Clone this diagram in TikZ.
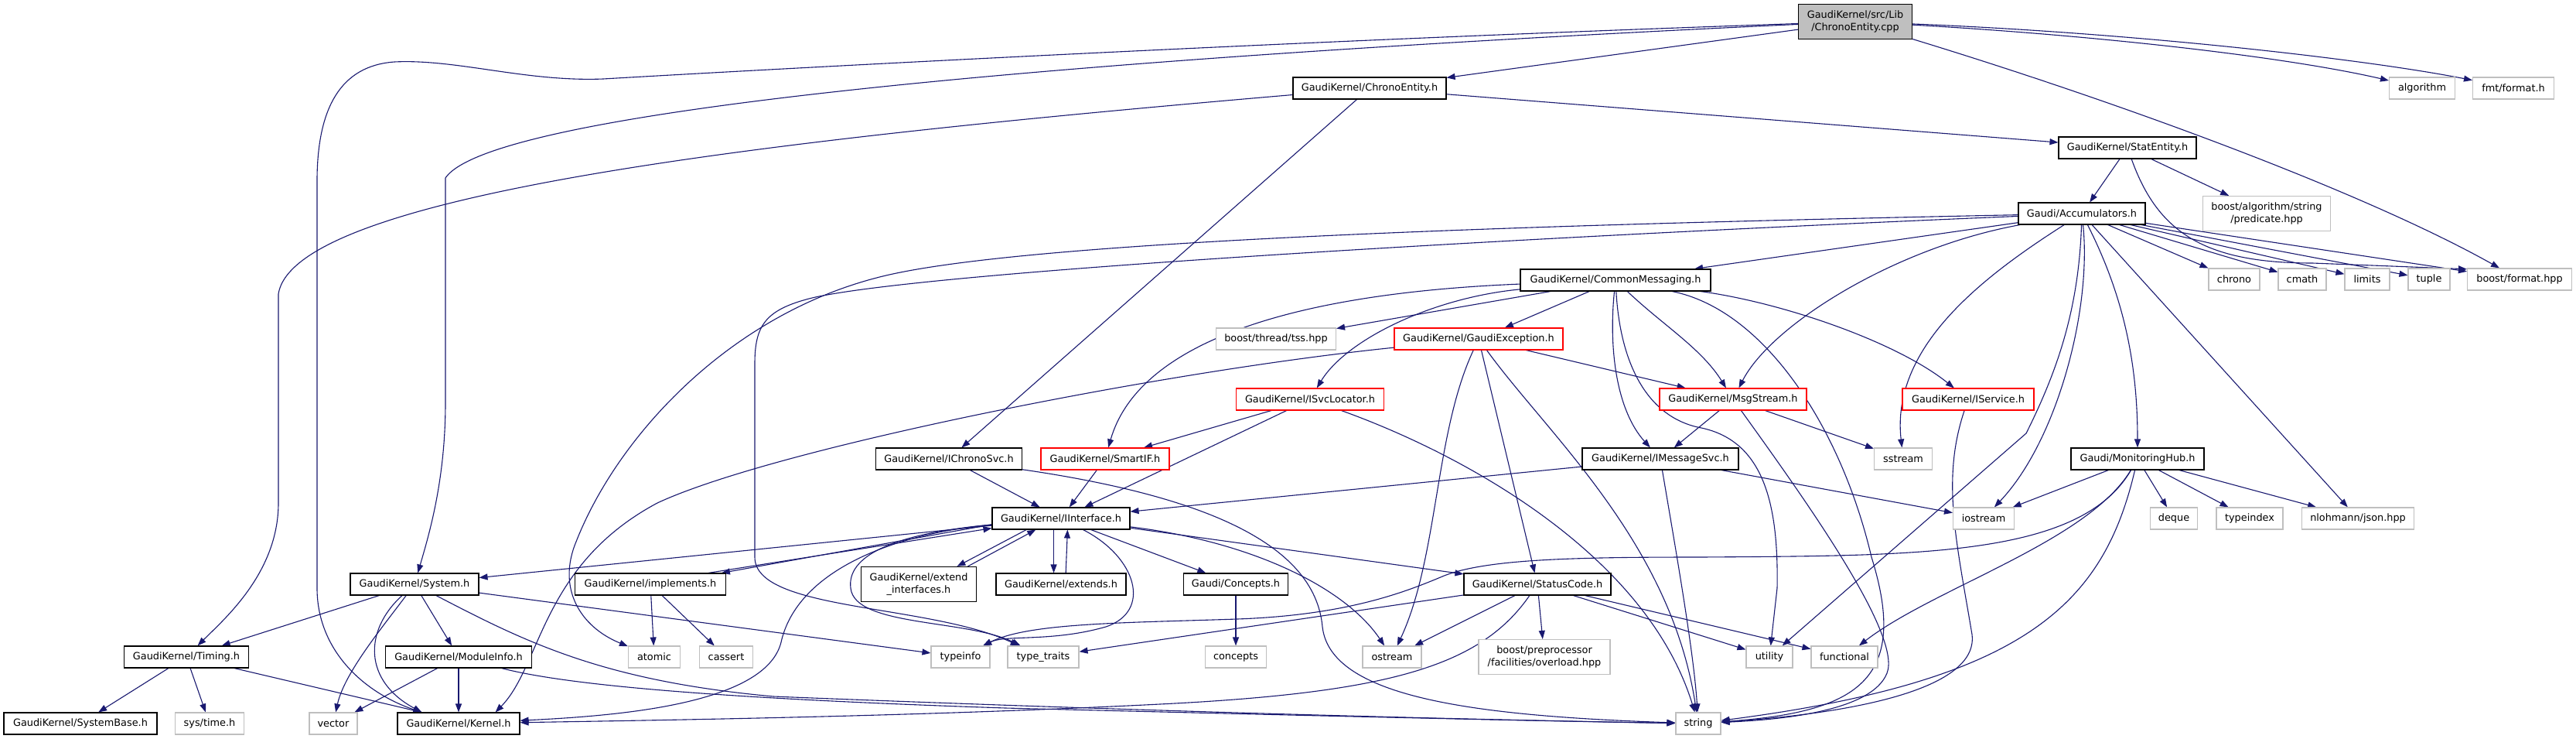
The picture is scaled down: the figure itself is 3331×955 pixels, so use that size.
\documentclass[tikz,border=0pt]{standalone}
\usepackage{fontspec}
\setmainfont{DejaVu Sans}
\usetikzlibrary{arrows.meta}
\definecolor{eblue}{RGB}{25,25,112}
\definecolor{gborder}{RGB}{191,191,191}
\definecolor{topfill}{RGB}{191,191,191}
\definecolor{rborder}{RGB}{255,0,0}
\newcommand{\gfont}{\fontsize{12.85}{16.5}\selectfont}
\pgfdeclarelayer{bg}
\pgfsetlayers{bg,main}
\begin{document}
\begin{tikzpicture}[x=1pt,y=-1pt,
  base/.style={rectangle, inner sep=0pt, font=\gfont, align=center, minimum height=28, line width=1.1pt},
  blk/.style={base, draw=black, fill=white},
  gry/.style={base, draw=gborder, fill=white},
  rdn/.style={base, draw=rborder, fill=white},
  topn/.style={base, draw=black, fill=topfill},
  edg/.style={draw=eblue, line width=1.1pt, -{Triangle[length=11pt,width=8pt]}}]
\useasboundingbox (0,0) rectangle (3331,955);
% nodes
\node[topn, minimum width=147, minimum height=45] (cpp) at (2399,28) {GaudiKernel/src/Lib\\/ChronoEntity.cpp};
\node[blk, minimum width=198] (ceh) at (1771,114) {GaudiKernel/ChronoEntity.h};
\node[gry, minimum width=85] (alg) at (3132,114) {algorithm};
\node[gry, minimum width=105] (fmt) at (3250,114) {fmt/format.h};
\node[blk, minimum width=178] (ste) at (2751,191) {GaudiKernel/StatEntity.h};
\node[blk, minimum width=164] (acc) at (2692,276) {Gaudi/Accumulators.h};
\node[gry, minimum width=165, minimum height=45] (prd) at (2931,276) {boost/algorithm/string\\/predicate.hpp};
\node[blk, minimum width=246] (cms) at (2089,362) {GaudiKernel/CommonMessaging.h};
\node[gry, minimum width=66] (chr) at (2889,361) {chrono};
\node[gry, minimum width=62] (cmt) at (2977,361) {cmath};
\node[gry, minimum width=58] (lim) at (3061,361) {limits};
\node[gry, minimum width=54] (tup) at (3141,361) {tuple};
\node[gry, minimum width=135] (bfm) at (3258,361) {boost/format.hpp};
\node[gry, minimum width=155] (tss) at (1650,438) {boost/thread/tss.hpp};
\node[rdn, minimum width=218] (gex) at (1912,438) {GaudiKernel/GaudiException.h};
\node[rdn, minimum width=191] (isl) at (1694,516) {GaudiKernel/ISvcLocator.h};
\node[rdn, minimum width=190] (msg) at (2241,516) {GaudiKernel/MsgStream.h};
\node[rdn, minimum width=170] (isv) at (2545,516) {GaudiKernel/IService.h};
\node[blk, minimum width=189] (ics) at (1227,593) {GaudiKernel/IChronoSvc.h};
\node[rdn, minimum width=166] (smt) at (1429,593) {GaudiKernel/SmartIF.h};
\node[blk, minimum width=202] (ims) at (2147,593) {GaudiKernel/IMessageSvc.h};
\node[gry, minimum width=75] (sst) at (2461,593) {sstream};
\node[blk, minimum width=172] (mon) at (2764,593) {Gaudi/MonitoringHub.h};
\node[blk, minimum width=178] (iif) at (1372,670) {GaudiKernel/IInterface.h};
\node[gry, minimum width=79] (ios) at (2565,670) {iostream};
\node[gry, minimum width=61] (deq) at (2811,670) {deque};
\node[gry, minimum width=86] (tix) at (2909,670) {typeindex};
\node[gry, minimum width=145] (nlo) at (3049,670) {nlohmann/json.hpp};
\node[blk, minimum width=166] (sys) at (536,755) {GaudiKernel/System.h};
\node[blk, minimum width=195] (imp) at (841,755) {GaudiKernel/implements.h};
\node[blk, minimum width=149, minimum height=45] (exi) at (1188,755) {GaudiKernel/extend\\\_interfaces.h};
\node[blk, minimum width=168] (ext) at (1372,755) {GaudiKernel/extends.h};
\node[blk, minimum width=135] (cpt) at (1598,755) {Gaudi/Concepts.h};
\node[blk, minimum width=190] (stc) at (1988,755) {GaudiKernel/StatusCode.h};
\node[blk, minimum width=161] (tim) at (241,849) {GaudiKernel/Timing.h};
\node[blk, minimum width=189] (mod) at (593,849) {GaudiKernel/ModuleInfo.h};
\node[gry, minimum width=67] (atm) at (846,849) {atomic};
\node[gry, minimum width=69] (cas) at (939,849) {cassert};
\node[gry, minimum width=76] (tif) at (1242,849) {typeinfo};
\node[gry, minimum width=92] (ttr) at (1349,849) {type\_traits};
\node[gry, minimum width=79] (cnc) at (1598,849) {concepts};
\node[gry, minimum width=76] (ost) at (1800,849) {ostream};
\node[gry, minimum width=170, minimum height=45] (bpp) at (1997,849) {boost/preprocessor\\/facilities/overload.hpp};
\node[gry, minimum width=60] (utl) at (2288,849) {utility};
\node[gry, minimum width=86] (fun) at (2385,849) {functional};
\node[blk, minimum width=198] (sbs) at (104,935) {GaudiKernel/SystemBase.h};
\node[gry, minimum width=89] (stm) at (271,935) {sys/time.h};
\node[gry, minimum width=62] (vec) at (431,935) {vector};
\node[blk, minimum width=158] (ker) at (593,935) {GaudiKernel/Kernel.h};
\node[gry, minimum width=58] (str) at (2196,935) {string};
\begin{pgfonlayer}{bg}
\fill[white] (0,0) rectangle (3331,955);
% cpp
\draw[edg] (cpp) -- (ceh);
\draw[edg] (cpp) .. controls (2700,45) and (2950,72) .. (alg);
\draw[edg] (cpp) .. controls (2750,42) and (3050,75) .. (fmt);
\draw[edg] (cpp) .. controls (2750,135) and (3060,250) .. (bfm);
\draw[edg] (cpp) .. controls (1500,70) and (640,135) .. (576,230) -- (576,520) .. controls (576,620) and (555,690) .. (sys);
\draw[edg] (cpp) .. controls (1600,55) and (900,95) .. (780,102) .. controls (680,106) and (590,76) .. (510,80) .. controls (440,85) and (411,140) .. (410,230) -- (410,760) .. controls (410,840) and (470,895) .. (ker.163);
% ChronoEntity.h
\draw[edg] (ceh) .. controls (1000,180) and (380,250) .. (360,380) -- (360,650) .. controls (360,740) and (290,800) .. (tim);
\draw[edg] (ceh) -- (ics);
\draw[edg] (ceh) -- (ste);
% StatEntity
\draw[edg] (ste) -- (acc);
\draw[edg] (ste) -- (prd);
\draw[edg] (ste) .. controls (2790,300) and (2850,340) .. (2990,340) -- (bfm.169);
% Accumulators
\draw[edg] (acc) -- (chr);
\draw[edg] (acc) -- (cmt);
\draw[edg] (acc) -- (lim);
\draw[edg] (acc) -- (tup);
\draw[edg] (acc) -- (bfm);
\draw[edg] (acc) -- (cms);
\draw[edg] (acc) .. controls (2450,320) and (2290,420) .. (msg);
\draw[edg] (acc) .. controls (2560,360) and (2445,450) .. (sst);
\draw[edg] (acc) .. controls (2688,400) and (2660,480) .. (2620,560) -- (utl);
\draw[edg] (acc) .. controls (2705,400) and (2660,570) .. (ios);
\draw[edg] (acc) .. controls (2750,390) and (2764,480) .. (mon);
\draw[edg] (acc) -- (nlo);
\draw[edg] (acc) .. controls (2000,290) and (1350,310) .. (1150,355) .. controls (950,400) and (800,560) .. (745,700) .. controls (720,760) and (750,810) .. (atm);
\draw[edg] (acc) .. controls (2000,305) and (1200,350) .. (1050,385) .. controls (990,400) and (976,420) .. (976,470) -- (976,720) .. controls (976,790) and (1200,780) .. (ttr);
% CommonMessaging
\draw[edg] (cms) -- (tss);
\draw[edg] (cms) -- (gex);
\draw[edg] (cms) .. controls (1850,385) and (1740,440) .. (isl);
\draw[edg] (cms) .. controls (1650,380) and (1470,450) .. (smt);
\draw[edg] (cms) .. controls (2080,450) and (2090,530) .. (ims);
\draw[edg] (cms) .. controls (2095,470) and (2130,540) .. (2200,553) .. controls (2280,570) and (2300,650) .. (2298,760) -- (utl);
\draw[edg] (cms) .. controls (2150,420) and (2200,450) .. (msg);
\draw[edg] (cms) .. controls (2280,400) and (2380,550) .. (2420,720) .. controls (2470,880) and (2400,920) .. (str);
\draw[edg] (cms) .. controls (2300,390) and (2450,440) .. (isv);
% GaudiException
\draw[edg] (gex) .. controls (1500,480) and (1000,580) .. (850,650) .. controls (700,730) and (700,860) .. (ker.17);
\draw[edg] (gex) .. controls (1855,560) and (1860,720) .. (ost);
\draw[edg] (gex) -- (stc);
\draw[edg] (gex) .. controls (2000,560) and (2160,700) .. (str);
\draw[edg] (gex) -- (msg);
% ISvcLocator
\draw[edg] (isl) -- (smt);
\draw[edg] (isl) -- (iif);
\draw[edg] (isl) .. controls (1900,590) and (2130,720) .. (str);
% SmartIF, IChronoSvc
\draw[edg] (smt) -- (iif);
\draw[edg] (ics) -- (iif);
\draw[edg] (ics) .. controls (1550,640) and (1700,700) .. (1710,810) .. controls (1720,900) and (1900,925) .. (str);
% IMessageSvc
\draw[edg] (ims) -- (iif);
\draw[edg] (ims) -- (ios);
\draw[edg] (ims) .. controls (2165,700) and (2190,840) .. (str);
% MsgStream
\draw[edg] (msg) -- (ims);
\draw[edg] (msg) -- (sst);
\draw[edg] (msg) .. controls (2330,640) and (2460,820) .. (2440,870) .. controls (2420,920) and (2300,930) .. (str);
% IService
\draw[edg] (isv) .. controls (2510,620) and (2530,700) .. (2550,820) .. controls (2560,900) and (2350,925) .. (str);
% MonitoringHub
\draw[edg] (mon) -- (ios);
\draw[edg] (mon) -- (deq);
\draw[edg] (mon) -- (tix);
\draw[edg] (mon) -- (nlo);
\draw[edg] (mon) .. controls (2690,720) and (2480,718) .. (2200,720) .. controls (2040,720) and (1920,722) .. (1865,745) .. controls (1815,766) and (1740,795) .. (1600,800) .. controls (1450,805) and (1330,805) .. (tif);
\draw[edg] (mon) .. controls (2700,700) and (2500,760) .. (fun);
\draw[edg] (mon) .. controls (2720,780) and (2620,880) .. (str);
% IInterface
\draw[edg] (iif) -- (sys);
\draw[edg] (iif.185) -- (imp.9);
\draw[edg] (imp.11) -- (iif.188);
\draw[edg] (iif.198) -- (exi.25);
\draw[edg] (exi.20) -- (iif.204);
\draw[edg] (iif.237) -- (ext.123);
\draw[edg] (ext.67) -- (iif.300);
\draw[edg] (iif) -- (cpt);
\draw[edg] (iif) -- (stc);
\draw[edg] (iif) .. controls (1620,700) and (1740,760) .. (ost);
\draw[edg] (iif) .. controls (1470,720) and (1490,790) .. (1430,810) .. controls (1360,830) and (1300,820) .. (tif);
\draw[edg] (iif) .. controls (1150,690) and (1095,720) .. (1100,760) .. controls (1105,810) and (1250,800) .. (ttr);
\draw[edg] (iif) .. controls (1150,690) and (1030,740) .. (1010,830) .. controls (990,910) and (800,925) .. (ker);
% StatusCode
\draw[edg] (stc) -- (ttr);
\draw[edg] (stc) -- (ost);
\draw[edg] (stc) .. controls (1915,860) and (1800,895) .. (1500,910) .. controls (1200,925) and (900,930) .. (ker);
\draw[edg] (stc) -- (bpp);
\draw[edg] (stc) -- (utl);
\draw[edg] (stc) -- (fun);
% System
\draw[edg] (sys) -- (tim);
\draw[edg] (sys) .. controls (495,810) and (445,870) .. (vec);
\draw[edg] (sys) .. controls (470,815) and (470,880) .. (ker.163);
\draw[edg] (sys) -- (mod);
\draw[edg] (sys) -- (tif);
\draw[edg] (sys) .. controls (680,830) and (780,880) .. (1000,900) .. controls (1500,920) and (1900,930) .. (str);
% Timing
\draw[edg] (tim) -- (sbs);
\draw[edg] (tim) -- (stm);
\draw[edg] (tim) -- (ker.163);
% ModuleInfo
\draw[edg] (mod) -- (vec);
\draw[edg] (mod) -- (ker);
\draw[edg] (mod) .. controls (750,890) and (1000,905) .. (1300,915) .. controls (1700,925) and (2000,932) .. (str);
% implements, Concepts
\draw[edg] (imp) -- (atm);
\draw[edg] (imp) -- (cas);
\draw[edg] (cpt) -- (cnc);
\end{pgfonlayer}
\end{tikzpicture}
\end{document}
